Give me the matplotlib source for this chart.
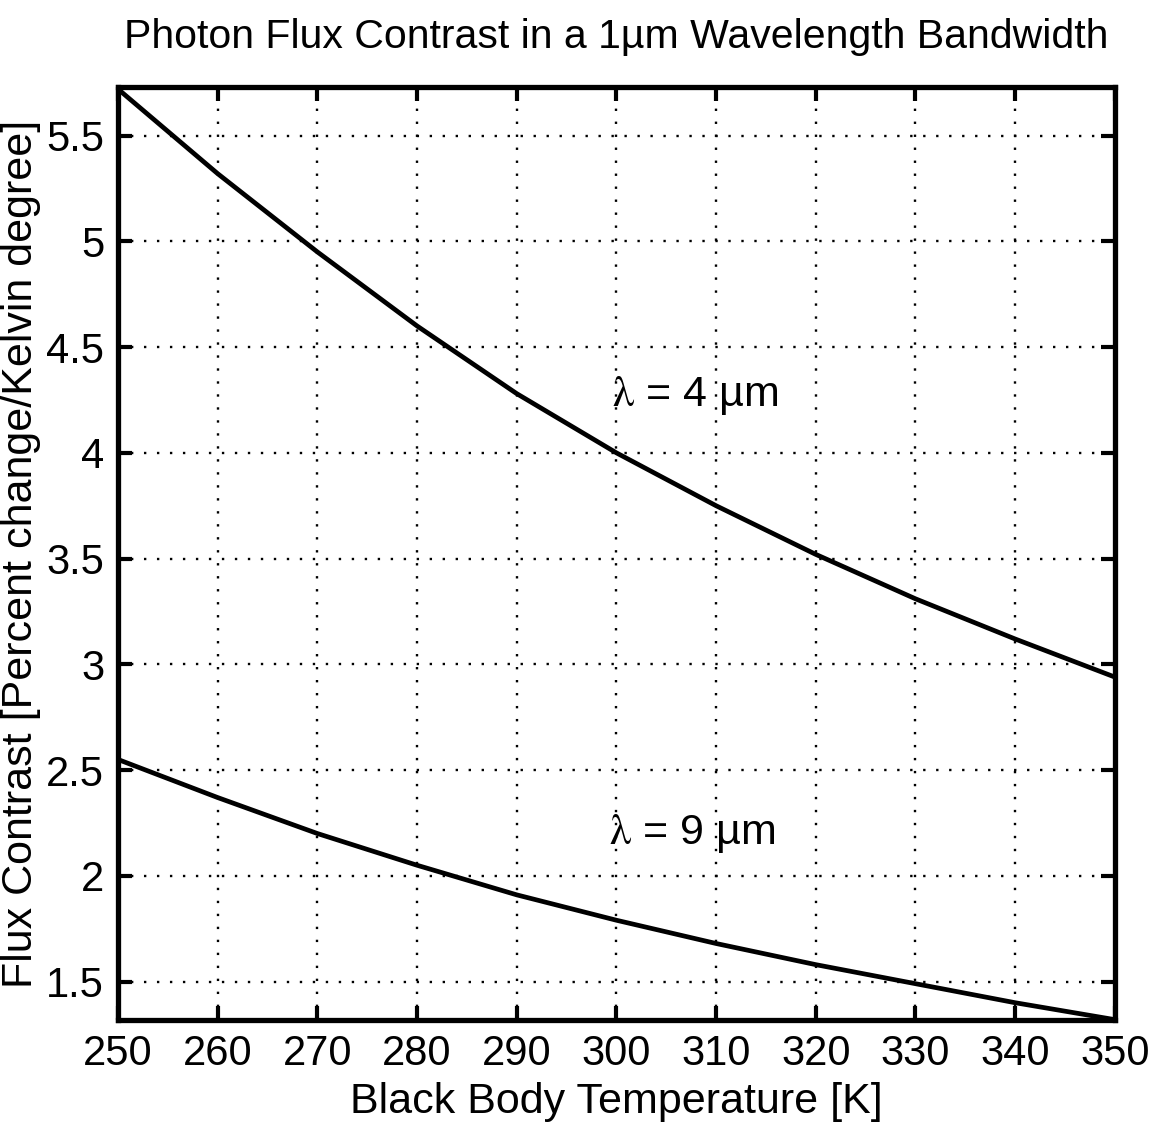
import matplotlib
matplotlib.use("Agg")
import matplotlib.pyplot as plt
from matplotlib import font_manager

# temperatures [K] and flux contrast [% / K]
temp_k = [250, 260, 270, 280, 290, 300, 310, 320, 330, 340, 350]
contrast_4um = [5.72, 5.32, 4.95, 4.60, 4.28, 4.00, 3.75, 3.52, 3.31, 3.12, 2.94]
contrast_9um = [2.55, 2.37, 2.20, 2.05, 1.91, 1.79, 1.68, 1.58, 1.49, 1.40, 1.32]
x_ticks = list(range(250, 351, 10))
y_ticks = [1.5, 2, 2.5, 3, 3.5, 4, 4.5, 5, 5.5]
y_tick_labels = ["1.5", "2", "2.5", "3", "3.5", "4", "4.5", "5", "5.5"]

names = {f.name for f in font_manager.fontManager.ttflist}
fam = "Liberation Sans Narrow" if "Liberation Sans Narrow" in names else "Liberation Sans"
plt.rcParams["font.family"] = [fam, "DejaVu Sans"]
plt.rcParams["mathtext.fontset"] = "stix"

fig = plt.figure(figsize=(11.63, 11.31), dpi=100)
ax = fig.add_axes([0.1015, 0.0981, 0.857, 0.825])

ax.plot(temp_k, contrast_4um, color="black", linewidth=3.4, solid_capstyle="butt")
ax.plot(temp_k, contrast_9um, color="black", linewidth=3.4, solid_capstyle="butt")

ax.set_xlim(250, 350)
ax.set_ylim(1.318, 5.73)
ax.set_xticks(x_ticks)
ax.set_yticks(y_ticks)
ax.set_yticklabels(y_tick_labels)
ax.grid(True, linestyle=(0, (1, 4.5)), color="black", linewidth=1.7)
ax.tick_params(direction="in", length=10, width=3, labelsize=30, pad=10,
               top=True, right=True)
for s in ax.spines.values():
    s.set_linewidth(3.8)

ax.set_xlabel("Black Body Temperature [K]", fontsize=31, labelpad=6)
ax.set_ylabel("Flux Contrast [Percent change/Kelvin degree]", fontsize=31, labelpad=4)
ax.set_title("Photon Flux Contrast in a 1µm Wavelength Bandwidth", fontsize=29.5, pad=28)

ax.text(299.6, 4.27, r"$\mathrm{\lambda}$ = 4 µm", fontsize=31, va="center", ha="left")
ax.text(299.3, 2.20, r"$\mathrm{\lambda}$ = 9 µm", fontsize=31, va="center", ha="left")

fig.savefig("out.png", dpi=100)
